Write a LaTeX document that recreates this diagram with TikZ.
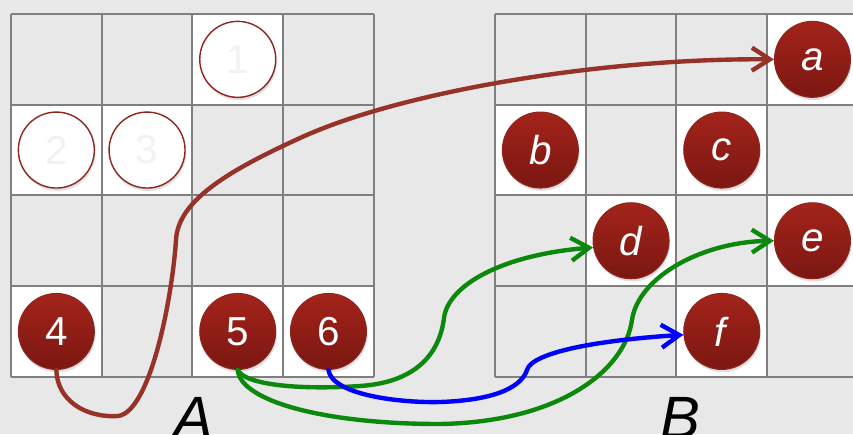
\documentclass[tikz,border=0pt]{standalone}
\usepackage{fontspec}
\setmainfont{Liberation Sans}
\usetikzlibrary{arrows.meta,shadows}
\definecolor{sfondo}{HTML}{E8E8E8}
\definecolor{grigiogriglia}{HTML}{7F7F7F}
\definecolor{rossoalto}{HTML}{A3241A}
\definecolor{rossobasso}{HTML}{7B1712}
\definecolor{rossobordo}{HTML}{8E2620}
\definecolor{marrone}{HTML}{963228}
\definecolor{verde}{HTML}{0C880C}
\definecolor{grigino}{HTML}{F2F2F2}
\begin{document}
\begin{tikzpicture}[x=0.02cm,y=-0.02cm,
    cella/.style={draw=grigiogriglia,line width=1.1pt},
    pieno/.style={circle,minimum size=1.52cm,inner sep=0pt,top color=rossoalto,bottom color=rossobasso,
      draw=rossobordo,line width=0.6pt,text=white,font=\fontsize{23}{26}\selectfont,
      drop shadow={opacity=0.25,shadow xshift=0.6pt,shadow yshift=-1.6pt}},
    vuoto/.style={circle,minimum size=1.52cm,inner sep=0pt,fill=white,draw=rossobordo,line width=0.8pt,
      text=grigino,font=\fontsize{23}{26}\selectfont,
      drop shadow={opacity=0.25,shadow xshift=0.6pt,shadow yshift=-1.6pt}},
    freccia/.style={line width=2.5pt,line cap=round,-{Straight Barb[length=3.6mm,width=4.6mm]}}]
    \def\lato{90.7}
    \clip (0,0) rectangle (853,434);
    \fill[sfondo] (0,0) rectangle (853,434);

    % caselle bianche, griglia A (origine 11) e griglia B (origine 495)
    \foreach \X/\Y in {3/1,1/2,2/2,1/4,3/4,4/4} {
      \fill[white] (11+\lato*\X-\lato,14+\lato*\Y-\lato) rectangle ++(\lato,\lato);}
    \foreach \X/\Y in {4/1,1/2,3/2,2/3,4/3,3/4} {
      \fill[white] (495+\lato*\X-\lato,14+\lato*\Y-\lato) rectangle ++(\lato,\lato);}

    % linee delle due griglie
    \foreach \i in {0,...,4} {
      \draw[cella] (11+\lato*\i,14) -- (11+\lato*\i,14+4*\lato);
      \draw[cella] (11,14+\lato*\i) -- (11+4*\lato,14+\lato*\i);
      \draw[cella] (495+\lato*\i,14) -- (495+\lato*\i,14+4*\lato);
      \draw[cella] (495,14+\lato*\i) -- (495+4*\lato,14+\lato*\i);
    ;};

    % pedine
    \foreach \n/\X/\Y in {1/3/1,2/1/2,3/2/2} {
      \node[vuoto] (n\n) at (11+\lato*\X-0.5*\lato,14+\lato*\Y-0.5*\lato) {\n};}
    \foreach \n/\X/\Y in {4/1/4,5/3/4,6/4/4} {
      \node[pieno] (n\n) at (11+\lato*\X-0.5*\lato,14+\lato*\Y-0.5*\lato) {\n};}
    \foreach \n/\X/\Y in {a/4/1,b/1/2,c/3/2,d/2/3,e/4/3,f/3/4} {
      \node[pieno] (n\n) at (495+\lato*\X-0.5*\lato,14+\lato*\Y-0.5*\lato) {\textit{\n}};}

    \node[anchor=base,font=\fontsize{34}{38}\selectfont] (etA) at (193,438) {\textit{A}};
    \node[anchor=base,font=\fontsize{34}{38}\selectfont] (etB) at (680,438) {\textit{B}};

    %frecce
    \draw[freccia,marrone] (n4.south) .. controls (57,400) and (85,418) .. (118,416)
      .. controls (150,412) and (172,300) .. (176,240)
      .. controls (178,200) and (230,170) .. (300,138)
      .. controls (400,92) and (600,58) .. (na.west);

    \draw[freccia,verde] (n5.south) .. controls (245,385) and (300,390) .. (360,386)
      .. controls (420,382) and (440,350) .. (444,318)
      .. controls (448,286) and (500,255) .. (nd.190);

    \draw[freccia,verde] (n5.south) .. controls (240,400) and (320,424) .. (440,424)
      .. controls (560,422) and (625,370) .. (632,320)
      .. controls (638,278) and (700,242) .. (ne.west);

    \draw[freccia,blue] (n6.south) .. controls (332,395) and (400,403) .. (440,402)
      .. controls (500,400) and (522,385) .. (527,370)
      .. controls (532,352) and (600,340) .. (nf.185);
    \end{tikzpicture}
\end{document}
